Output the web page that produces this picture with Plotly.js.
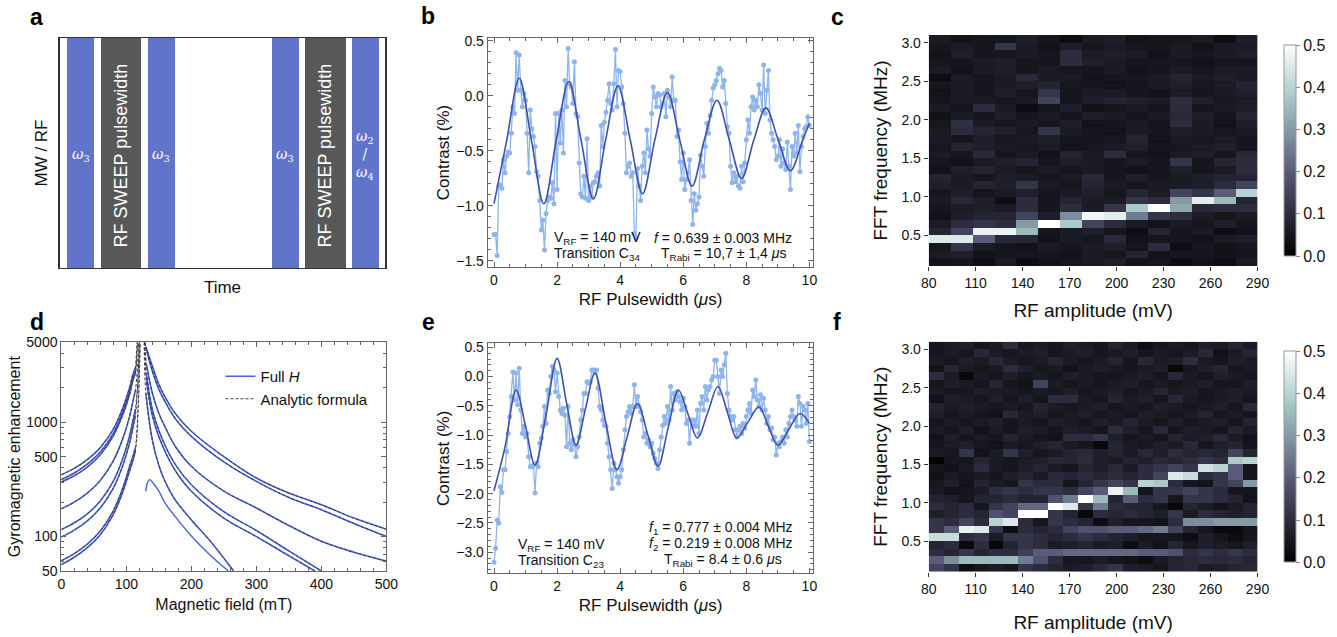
<!DOCTYPE html>
<html><head><meta charset="utf-8">
<script src="https://cdn.plot.ly/plotly-3.0.1.min.js"></script>
<style>body{margin:0;background:#fff}#g{width:1337px;height:637px}</style>
</head><body><div id="g"></div>
<script>
// ---------- panel a : pulse sequence ----------
const aPulseStart = [2.4, 12.8, 27.1, 65.2, 75.3, 89.6];
const aPulseEnd   = [10.7, 25.0, 35.4, 73.4, 87.8, 97.9];
const aPulseKind  = ['MW', 'RF', 'MW', 'MW', 'RF', 'MW'];
const aPulseLabel = ['<i>ω</i><sub>3</sub>', 'RF SWEEP pulsewidth', '<i>ω</i><sub>3</sub>', '<i>ω</i><sub>3</sub>', 'RF SWEEP pulsewidth', '<i>ω</i><sub>2</sub><br>/<br><i>ω</i><sub>4</sub>'];

// ---------- panel b : Rabi C34 ----------
const bStep = 0.05;
const bData = [-1.26,-1.26,-1.45,-0.82,-0.81,-0.84,-0.58,-0.70,-0.55,-0.51,-0.52,-0.34,-0.10,-0.16,0.39,0.05,0.37,0.05,-0.10,0.02,
-0.04,-0.34,-0.70,-0.13,-0.30,-0.37,-0.46,-0.69,-0.73,-0.95,-1.22,-1.13,-1.40,-1.07,-0.95,-0.92,-0.93,-0.79,-0.98,-0.16,
-0.85,-0.16,-0.43,-0.13,-0.52,0.14,-0.10,0.43,0.11,0.08,-0.07,0.31,-0.16,-0.19,-0.61,-0.89,-0.92,-0.73,-0.93,-0.39,
-0.95,-0.82,-0.92,-0.79,-0.78,-0.73,-0.70,-0.82,-0.27,-0.46,-0.24,-0.15,-0.04,0.11,-0.07,-0.13,0.11,0.42,-0.10,0.23,
0.22,0.08,-0.07,-0.34,-0.70,-0.64,-0.61,-0.73,-0.70,-1.25,-1.29,-0.66,-0.82,-0.95,-0.64,-0.52,-0.70,-0.31,-0.48,-0.55,
-0.16,0.08,-0.01,-0.10,0.02,0.01,-0.10,-0.07,0.02,-0.19,0.05,-0.01,-0.10,0.17,-0.04,-0.04,-0.37,-0.31,-0.60,-0.76,
-0.52,-0.85,-0.76,-0.70,-0.58,-0.95,-1.17,-0.89,-1.04,-0.98,-0.92,-0.54,-0.64,-0.73,-0.46,-0.25,-0.34,-0.18,-0.04,0.07,
0.10,0.14,0.20,0.25,0.23,0.08,0.14,-0.07,-0.28,-0.34,-0.64,-0.79,-0.70,-0.78,-0.73,-0.82,-0.84,-0.64,-0.78,-0.61,
-0.40,-0.22,-0.34,-0.10,-0.01,-0.13,-0.04,-0.10,0.10,0.02,-0.13,0.28,-0.16,0.05,0.23,-0.22,-0.34,-0.40,-0.46,-0.58,
-0.55,-0.40,-0.64,-0.48,-0.61,-0.67,-0.42,-0.64,-0.85,-0.46,-0.55,-0.34,-0.52,-0.27,-0.69,-0.46,-0.37,-0.30,-0.28,-0.19,-0.27];
const bFitT = [0,0.4,0.8,1.19,1.58,1.97,2.37,2.76,3.15,3.54,3.93,4.32,4.71,5.1,5.5,5.89,6.28,6.67,7.07,7.46,7.85,8.24,8.62,9.01,9.4,9.79,10];
const bFitV = [-0.98,-0.41,0.16,-0.41,-0.98,-0.41,0.13,-0.40,-0.94,-0.40,0.09,-0.40,-0.89,-0.40,0.03,-0.40,-0.82,-0.40,-0.04,-0.40,-0.75,-0.40,-0.11,-0.40,-0.68,-0.40,-0.25];

// ---------- panel e : Rabi C23 ----------
const eStep = 0.05;
const eData = [-3.17,-2.93,-2.45,-2.50,-1.88,-1.98,-1.59,-1.59,-1.28,-0.97,-0.68,-0.34,0.08,-0.40,0.06,-0.48,0.14,-0.57,-0.97,-0.85,
-1.03,-0.97,-1.37,-1.54,-1.54,-1.51,-1.99,-1.48,-1.54,-1.14,-1.05,-0.85,-0.51,-0.80,-0.23,-0.29,0.00,0.17,0.11,-0.26,
0.06,-0.34,-0.57,-0.63,-0.54,-0.66,-1.20,-0.51,-1.14,-1.25,-1.08,-1.17,-1.37,-1.20,-1.03,-0.74,-0.57,-0.29,-0.29,-0.09,
-0.11,-0.09,0.11,0.11,0.06,0.11,-0.20,-0.51,-0.57,-0.74,-0.83,-0.85,-1.14,-1.37,-1.59,-1.91,-1.48,-1.59,-1.71,-1.82,
-1.71,-1.59,-1.25,-0.91,-0.68,-0.60,-0.51,-0.63,-0.51,-0.14,-0.51,-0.34,-0.51,-0.60,-0.74,-1.03,-0.97,-1.14,-1.08,-1.20,
-1.14,-1.31,-1.40,-1.48,-1.57,-1.25,-1.03,-0.83,-0.68,-0.80,-0.51,-0.74,-0.17,-0.57,-0.29,-0.40,-0.26,-0.34,-0.43,-0.57,
-0.37,-0.51,-0.80,-0.74,-1.14,-0.74,-0.85,-0.74,-0.85,-0.57,-0.97,-0.46,-0.34,-0.57,-0.17,-0.40,-0.23,-0.17,-0.06,0.00,
0.28,0.28,0.00,-0.29,0.11,0.00,0.20,0.40,-0.29,-0.57,-0.68,-0.74,-0.68,-0.91,-1.03,-0.91,-0.85,-0.97,-0.80,-0.88,
-0.68,-0.57,-0.46,-0.63,-0.23,-0.34,-0.06,-0.40,-0.51,-0.31,-0.57,-0.37,-0.57,-0.80,-0.68,-0.91,-0.88,-1.08,-1.03,-1.34,
-1.14,-1.20,-1.11,-1.03,-1.14,-0.91,-1.03,-0.80,-0.68,-0.57,-0.68,-0.74,-0.85,-0.34,-0.46,-0.85,-0.51,-0.57,-0.80,-0.46,-1.11];
const eFitT = [0,0.35,0.7,1.0,1.3,1.65,2.0,2.3,2.6,2.9,3.2,3.55,3.9,4.22,4.55,4.88,5.2,5.52,5.85,6.15,6.45,6.78,7.1,7.4,7.7,8.05,8.4,8.7,9.0,9.35,9.7,10];
const eFitV = [-1.95,-1.2,-0.23,-0.85,-1.51,-0.65,0.31,-0.45,-1.17,-0.55,0.06,-0.80,-1.59,-1.03,-0.46,-1.0,-1.53,-0.88,-0.23,-0.64,-1.05,-0.61,-0.17,-0.61,-1.05,-0.78,-0.52,-0.85,-1.17,-0.90,-0.63,-0.80];

// ---------- panel d : gyromagnetic enhancement ----------
const dLeftB = [0, 20, 40, 60, 80, 95, 105, 110, 114];
const dLeftFull = [
  [347, 395, 470, 600, 870, 1350, 2000, 2600, 3000],
  [315, 360, 430, 550, 800, 1250, 1850, 2400, 2800],
  [300, 340, 405, 520, 760, 1180, 1750, 2300, 2700],
  [175, 200, 240, 310, 460, 730, 1120, 1500, 1900],
  [115, 132, 158, 205, 305, 490, 760, 1020, 1300],
  [99, 114, 137, 178, 265, 425, 660, 890, 1150],
  [61.5, 71, 86, 112, 168, 270, 410, 500, 600],
  [56.8, 66, 80, 104, 156, 250, 375, 460, 560]
];
const dLeftAnaExtB = [[115.5, 116.5], [115.7, 117], [116, 117.5], [117, 119], [117.5, 120], [117.5, 120], [118, 121], [118, 121.5]];
const dLeftAnaExtV = [[4000, 5000], [3800, 5000], [3600, 5000], [3000, 5000], [2300, 5000], [2100, 5000], [1300, 5000], [1200, 5000]];
const dRightB = [
  [130, 140, 150, 160, 175, 200, 250, 300, 350, 400, 450, 500],
  [131, 140, 150, 160, 175, 200, 250, 300, 350, 400, 450, 500],
  [131, 140, 150, 160, 175, 200, 250, 300, 350, 400, 450, 500],
  [131, 140, 150, 160, 175, 200, 250, 300, 350, 400],
  [131, 140, 150, 160, 175, 200, 250, 300, 350, 390],
  [130, 140, 150, 160, 175, 200, 230, 265]
];
const dRightFull = [
  [4600, 3100, 2150, 1650, 1200, 834, 500, 325, 240, 190, 145, 116],
  [4300, 2800, 1950, 1500, 1080, 753, 450, 304, 220, 172, 130, 100],
  [3200, 1800, 1200, 900, 620, 412, 250, 178, 125, 91, 73, 61],
  [2600, 1300, 850, 620, 430, 284, 165, 113, 75, 50],
  [2300, 1150, 750, 550, 380, 249, 145, 100, 68, 50],
  [1800, 700, 420, 300, 210, 140, 90, 50]
];
const dRightAnaStartB = [128, 128.5, 128.5, 128, 128.5, 127.5];
const dAnomB = [130, 133, 136, 142, 150, 160, 175, 200, 230, 257];
const dAnomV = [250, 300, 315, 290, 250, 195, 150, 101, 68, 50];

// ---------- panels c, f : FFT maps (values in hundredths), rows bottom -> top ----------
const cAmpEdges = [80, 94, 108, 122, 136, 150, 164, 178, 192, 206, 220, 234, 248, 262, 276, 290];
const fAmpEdges = [80, 89.55, 99.09, 108.64, 118.18, 127.73, 137.27, 146.82, 156.36, 165.91, 175.45, 185, 194.55, 204.09, 213.64, 223.18, 232.73, 242.27, 251.82, 261.36, 270.91, 280.45, 290];
const freqEdges = [0.1,0.2,0.3,0.4,0.5,0.6,0.7,0.8,0.9,1.0,1.1,1.2,1.3,1.4,1.5,1.6,1.7,1.8,1.9,2.0,2.1,2.2,2.3,2.4,2.5,2.6,2.7,2.8,2.9,3.0,3.1];
const cFFT = [
[4,5,3,6,3,4,5,6,7,4,5,3,4,3,6],
[6,7,4,5,5,5,4,6,5,8,4,5,5,4,5],
[5,12,6,5,4,6,5,6,7,5,10,3,5,4,5],
[45,45,20,9,8,4,6,5,9,4,5,5,4,6,7],
[8,15,47,47,35,5,6,7,5,3,8,5,6,3,4],
[6,10,12,10,30,50,38,15,10,6,4,6,5,7,5],
[4,7,8,8,15,7,28,48,46,25,12,10,6,5,6],
[5,6,7,6,10,5,10,6,12,38,50,32,9,10,10],
[6,9,7,3,10,5,8,6,6,12,10,30,46,35,8],
[5,7,5,6,7,5,6,7,5,8,6,15,12,20,40],
[7,6,8,7,12,6,5,8,6,5,6,6,7,10,15],
[8,6,5,7,6,5,6,9,5,7,5,6,7,8,8],
[4,7,8,6,5,6,5,6,5,4,5,7,5,6,10],
[5,4,6,7,8,5,7,6,5,6,5,12,5,8,10],
[6,5,9,5,6,4,8,6,10,5,4,6,7,5,9],
[5,8,7,6,5,6,4,5,6,7,5,5,6,7,5],
[6,5,7,5,6,7,5,5,5,8,4,6,5,6,5],
[6,10,8,7,5,12,6,5,4,6,5,7,6,5,6],
[5,11,6,5,6,5,7,4,5,6,5,10,6,4,7],
[4,6,5,7,5,6,5,7,6,5,6,9,7,5,8],
[6,5,10,6,3,5,7,4,5,6,5,10,5,6,7],
[5,6,6,5,6,15,5,7,8,7,6,10,7,5,6],
[4,6,5,7,5,12,5,6,6,5,4,6,5,6,7],
[5,6,5,6,7,8,5,5,4,5,6,7,5,6,8],
[3,6,5,6,9,6,6,4,5,5,6,8,6,7,6],
[6,4,6,7,5,6,5,5,6,4,5,6,5,6,6],
[5,5,6,7,5,5,10,7,6,5,5,5,4,5,5],
[4,7,5,5,6,5,10,6,7,6,4,6,5,6,7],
[5,6,5,12,6,4,7,5,6,5,5,6,4,6,6],
[6,4,5,5,7,5,3,6,7,4,5,5,6,3,7]];
const fFFT = [
[15,12,3,5,6,5,12,10,8,6,7,9,12,7,6,5,8,9,6,7,8,9],
[20,28,35,35,35,35,25,18,10,5,5,6,5,4,3,6,8,9,10,9,10,8],
[10,8,12,8,10,10,14,20,20,22,22,22,22,22,20,20,18,10,12,10,12,10],
[8,10,2,10,2,8,12,10,6,7,8,6,7,3,6,4,8,5,7,6,5,7],
[42,42,10,12,6,12,12,10,8,10,12,10,8,7,5,5,5,3,7,5,3,5],
[12,20,47,45,12,3,10,8,10,15,18,18,20,20,22,25,15,8,5,2,2,5],
[12,10,15,10,40,45,10,5,12,10,8,3,7,5,5,4,10,28,28,30,30,30],
[7,8,10,8,18,15,50,50,12,8,2,10,8,10,8,7,12,6,10,8,7,8],
[10,8,10,5,12,15,22,22,50,45,12,25,10,8,8,5,2,8,6,4,6,8],
[8,7,5,8,8,10,8,8,18,25,50,35,8,20,10,12,5,12,12,10,8,4],
[6,4,5,6,10,12,10,12,12,10,15,20,47,35,5,12,12,15,12,10,5,5],
[5,7,4,8,6,5,12,10,10,5,8,12,15,12,40,38,10,5,4,12,15,30],
[4,6,5,6,5,7,8,6,9,8,10,8,10,8,10,15,45,42,10,12,20,5],
[5,4,6,10,6,5,7,8,6,5,8,7,9,6,10,12,15,12,43,40,20,5],
[1,5,5,8,6,5,6,7,9,8,10,7,6,8,7,9,8,10,12,10,38,40],
[6,5,12,4,6,12,7,5,6,8,9,7,8,6,9,7,10,8,9,8,15,8],
[5,6,7,5,4,6,5,7,8,6,5,2,8,6,5,7,6,9,5,7,8,5],
[4,7,5,6,5,8,6,5,4,10,10,12,7,5,6,5,8,6,7,9,6,4],
[6,5,7,4,6,5,7,6,5,7,6,5,10,7,5,9,5,7,6,5,8,6],
[5,6,5,6,7,5,6,5,7,6,5,7,6,8,6,5,7,5,6,7,5,8],
[7,5,6,5,4,9,6,7,5,6,7,5,6,5,7,6,5,6,8,5,6,5],
[8,6,7,6,5,6,5,8,6,5,6,7,5,6,5,7,6,5,6,7,5,9],
[4,7,6,5,7,5,7,5,10,10,6,5,8,6,7,5,9,6,5,6,7,5],
[6,5,5,7,6,6,5,6,5,7,5,6,7,5,6,8,6,7,5,6,7,6],
[5,7,6,5,8,5,4,15,6,5,6,5,6,7,5,6,5,6,7,5,5,7],
[10,6,2,6,5,7,5,6,5,7,6,5,5,6,7,5,9,6,5,7,6,5],
[4,8,6,5,6,10,7,5,6,4,6,7,6,5,6,7,2,5,7,8,5,6],
[6,5,7,6,9,6,5,6,8,6,5,6,8,5,9,6,7,10,6,5,7,6],
[5,6,5,9,6,5,6,7,5,6,7,5,6,7,5,6,5,6,9,4,6,8],
[5,6,7,5,6,10,5,6,5,7,6,5,8,6,3,5,6,5,7,6,8,6]];
const fftTicks = [0, 0.1, 0.2, 0.3, 0.4, 0.5];

// ---------- styling ----------
const W = 1337, H = 637;
const FONT = 'Liberation Sans, Arial, Helvetica, sans-serif';
const px = v => v / W, py = v => 1 - v / H;
const MWC = 'rgb(96,117,202)', RFC = 'rgb(88,88,88)';
const DOT = 'rgb(142,180,236)', FIT = 'rgb(62,80,172)';
const FULLH = 'rgb(70,100,225)', ANA = 'rgb(60,60,70)';
const bone = [[0,'rgb(0,0,0)'],[0.365,'rgb(81,81,113)'],[0.746,'rgb(166,199,198)'],[1,'rgb(255,255,255)']];

const traces = [];
// a
const mwIdx = aPulseKind.map((k,i)=>k==='MW'?i:-1).filter(i=>i>=0);
const rfIdx = aPulseKind.map((k,i)=>k==='RF'?i:-1).filter(i=>i>=0);
[[mwIdx, MWC],[rfIdx, RFC]].forEach(([idx,col])=>{
  traces.push({type:'bar', xaxis:'x', yaxis:'y', showlegend:false, hoverinfo:'skip',
    x: idx.map(i=>(aPulseStart[i]+aPulseEnd[i])/2), width: idx.map(i=>aPulseEnd[i]-aPulseStart[i]),
    y: idx.map(()=>1), base: 0, marker:{color:col, line:{width:0}}});
});
// b, e
function rabi(data, step, fitT, fitV, xa, ya){
  traces.push({type:'scatter', mode:'lines+markers', xaxis:xa, yaxis:ya, showlegend:false,
    x: data.map((_,i)=>+(i*step).toFixed(2)), y: data,
    line:{color:DOT, width:1.3}, marker:{color:DOT, size:5}});
  traces.push({type:'scatter', mode:'lines', xaxis:xa, yaxis:ya, showlegend:false,
    x: fitT, y: fitV, line:{color:FIT, width:1.6, shape:'spline', smoothing:1}});
}
rabi(bData, bStep, bFitT, bFitV, 'x2', 'y2');
rabi(eData, eStep, eFitT, eFitV, 'x5', 'y5');
// c, f
function fft(edges, z, xa, ya, cbY){
  traces.push({type:'heatmap', xaxis:xa, yaxis:ya, x: edges, y: freqEdges,
    z: z.map(r=>r.map(v=>v/100)), zmin:0, zmax:0.5, colorscale:bone,
    colorbar:{x:px(1283), xanchor:'left', y:cbY, yanchor:'middle', len:231/H, lenmode:'fraction',
      thickness:12, outlinewidth:1, outlinecolor:'#999', tickvals:fftTicks, tickformat:'.1f',
      ticks:'outside', ticklen:4, tickcolor:'#888', tickfont:{size:16, family:FONT}}});
}
fft(cAmpEdges, cFFT, 'x3', 'y3', py(150.5));
fft(fAmpEdges, fFFT, 'x6', 'y6', py(456.7));
// d
dLeftFull.forEach((v,i)=>{
  traces.push({type:'scatter', mode:'lines', xaxis:'x4', yaxis:'y4', x:dLeftB, y:v,
    name:'Full <i>H</i>', showlegend:i===0, legendrank:1,
    line:{color:FULLH, width:1.6, shape:'spline'}});
});
dRightFull.forEach((v,i)=>{
  traces.push({type:'scatter', mode:'lines', xaxis:'x4', yaxis:'y4', x:dRightB[i], y:v,
    showlegend:false, line:{color:FULLH, width:1.6, shape:'spline'}});
});
traces.push({type:'scatter', mode:'lines', xaxis:'x4', yaxis:'y4', x:dAnomB, y:dAnomV,
  showlegend:false, line:{color:FULLH, width:1.4, shape:'spline'}});
dLeftFull.forEach((v,i)=>{
  traces.push({type:'scatter', mode:'lines', xaxis:'x4', yaxis:'y4',
    x:dLeftB.concat(dLeftAnaExtB[i]), y:v.concat(dLeftAnaExtV[i]),
    name:'Analytic formula', showlegend:i===0, legendrank:2,
    line:{color:ANA, width:1, dash:'3px,2px', shape:'spline'}});
});
dRightFull.forEach((v,i)=>{
  traces.push({type:'scatter', mode:'lines', xaxis:'x4', yaxis:'y4',
    x:[dRightAnaStartB[i]].concat(dRightB[i]), y:[5000].concat(v),
    showlegend:false, line:{color:ANA, width:1, dash:'3px,2px', shape:'spline'}});
});

// ---------- axes ----------
const frame = {showline:true, mirror:'allticks', linecolor:'#666', linewidth:1, zeroline:false, showgrid:false,
  ticks:'inside', ticklen:5, tickcolor:'#666', tickfont:{size:14}};
const plain = {showline:true, mirror:true, linecolor:'#333', linewidth:1.2, zeroline:false, showgrid:false,
  ticks:'', showticklabels:false, fixedrange:true};
const hm = {showline:false, zeroline:false, showgrid:false, ticks:'outside', ticklen:4, tickcolor:'#333', tickfont:{size:14}};
const rabiX = Object.assign({}, frame, {range:[-0.2,10.13], tickmode:'linear', tick0:0, dtick:2,
  minor:{tickmode:'linear', tick0:0, dtick:0.5, ticks:'inside', ticklen:3, tickcolor:'#666'}});

const layout = {
  width:W, height:H, margin:{l:0,r:0,t:0,b:0}, paper_bgcolor:'#fff', plot_bgcolor:'#fff',
  font:{family:FONT, size:14, color:'#111'}, barmode:'overlay', bargap:0,
  xaxis: Object.assign({}, plain, {domain:[px(60),px(388)], anchor:'y', range:[0,100],
    title:{text:'Time', font:{size:17}, standoff:12}}),
  yaxis: Object.assign({}, plain, {domain:[py(268),py(38)], anchor:'x', range:[0,1],
    title:{text:'MW / RF', font:{size:17}, standoff:6}}),
  xaxis2: Object.assign({}, rabiX, {domain:[px(491),px(819)], anchor:'y2',
    title:{text:'RF Pulsewidth (<i>μ</i>s)', font:{size:17}, standoff:6}}),
  yaxis2: Object.assign({}, frame, {domain:[py(267),py(38)], anchor:'x2', range:[-1.555,0.525],
    tickmode:'linear', tick0:0, dtick:0.5, tickformat:'.1f',
    minor:{tickmode:'linear', tick0:0, dtick:0.1, ticks:'inside', ticklen:3, tickcolor:'#666'},
    title:{text:'Contrast (%)', font:{size:17}, standoff:2}}),
  xaxis5: Object.assign({}, rabiX, {domain:[px(491),px(819)], anchor:'y5',
    title:{text:'RF Pulsewidth (<i>μ</i>s)', font:{size:17}, standoff:6}}),
  yaxis5: Object.assign({}, frame, {domain:[py(573.3),py(343.3)], anchor:'x5', range:[-3.359,0.568],
    tickmode:'linear', tick0:0, dtick:0.5, tickformat:'.1f',
    minor:{tickmode:'linear', tick0:0, dtick:0.1, ticks:'inside', ticklen:3, tickcolor:'#666'},
    title:{text:'Contrast (%)', font:{size:17}, standoff:2}}),
  xaxis3: Object.assign({}, hm, {domain:[px(935),px(1266)], anchor:'y3', range:[80,290], tickmode:'linear', tick0:80, dtick:30,
    title:{text:'RF amplitude (mV)', font:{size:19}, standoff:13}}),
  yaxis3: Object.assign({}, hm, {domain:[py(266),py(35)], anchor:'x3', range:[0.1,3.1], tickmode:'linear', tick0:0.5, dtick:0.5, tickformat:'.1f',
    title:{text:'FFT frequency (MHz)', font:{size:19}, standoff:8}}),
  xaxis6: Object.assign({}, hm, {domain:[px(935),px(1266)], anchor:'y6', range:[80,290], tickmode:'linear', tick0:80, dtick:30,
    title:{text:'RF amplitude (mV)', font:{size:19}, standoff:20}}),
  yaxis6: Object.assign({}, hm, {domain:[py(571.7),py(341.7)], anchor:'x6', range:[0.1,3.1], tickmode:'linear', tick0:0.5, dtick:0.5, tickformat:'.1f',
    title:{text:'FFT frequency (MHz)', font:{size:19}, standoff:8}}),
  xaxis4: Object.assign({}, frame, {domain:[px(61.7),px(389)], anchor:'y4', range:[0,500], tickmode:'linear', tick0:0, dtick:100,
    minor:{tickmode:'linear', tick0:0, dtick:20, ticks:'inside', ticklen:3, tickcolor:'#666'},
    title:{text:'Magnetic field (mT)', font:{size:16}, standoff:8}}),
  yaxis4: Object.assign({}, frame, {domain:[py(571),py(342.3)], anchor:'x4', type:'log', range:[Math.log10(50), Math.log10(5000)],
    tickmode:'array', tickvals:[50,100,500,1000,5000], ticktext:['50','100','500','1000','5000'],
    minor:{tickmode:'array', tickvals:[60,70,80,90,200,300,400,600,700,800,900,2000,3000,4000], ticks:'inside', ticklen:3, tickcolor:'#666'},
    title:{text:'Gyromagnetic enhancement', font:{size:16}, standoff:1}}),
  legend:{x:px(222), y:py(360), xanchor:'left', yanchor:'top', bgcolor:'rgba(0,0,0,0)', font:{size:15}, tracegroupgap:2, itemwidth:30},
  annotations: []
};
const ann = layout.annotations;
// panel a labels
aPulseLabel.forEach((t,i)=>{
  const mw = aPulseKind[i]==='MW';
  ann.push({xref:'x', yref:'y', x:(aPulseStart[i]+aPulseEnd[i])/2, y:0.49, text:t, showarrow:false,
    textangle: mw?0:-90, font: mw?{family:'DejaVu Serif, Liberation Serif, serif', size:14, color:'#fff'}:{size:18, color:'#fff'}});
});
// panel letters
[['a',37,17],['b',431,16],['c',843,17],['d',37,322],['e',431,322],['f',843,322]].forEach(([t,x,y])=>{
  ann.push({xref:'paper', yref:'paper', x:px(x), y:py(y), text:'<b>'+t+'</b>', showarrow:false, font:{size:23, color:'#000'}, xanchor:'center', yanchor:'middle'});
});
function txt(t, x, y, anchor){
  ann.push({xref:'paper', yref:'paper', x:px(x), y:py(y), text:t, showarrow:false, xanchor:anchor, yanchor:'middle', font:{size:14, color:'#111'}});
}
txt('V<sub>RF</sub> = 140 mV', 556, 238, 'left');
txt('Transition C<sub>34</sub>', 556, 254, 'left');
txt('<i>f</i> = 0.639 ± 0.003 MHz', 799, 238, 'right');
txt('T<sub>Rabi</sub> = 10,7 ± 1,4 <i>μ</i>s', 793, 254, 'right');
txt('V<sub>RF</sub> = 140 mV', 520, 545, 'left');
txt('Transition C<sub>23</sub>', 520, 561, 'left');
txt('<i>f</i><sub>1</sub> = 0.777 ± 0.004 MHz', 800, 528, 'right');
txt('<i>f</i><sub>2</sub> = 0.219 ± 0.008 MHz', 800, 544, 'right');
txt('T<sub>Rabi</sub> = 8.4 ± 0.6 <i>μ</i>s', 789, 560, 'right');

Plotly.newPlot('g', traces, layout, {staticPlot:true, displayModeBar:false});
</script></body></html>
